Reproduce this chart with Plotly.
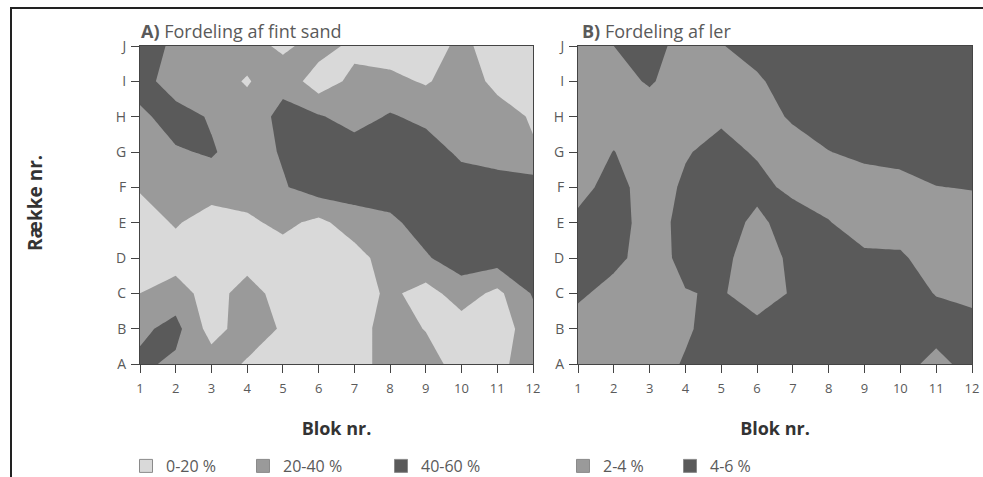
import plotly.graph_objects as go

# ---------------- data ----------------
blocks = [1, 2, 3, 4, 5, 6, 7, 8, 9, 10, 11, 12]
rows = ["A", "B", "C", "D", "E", "F", "G", "H", "I", "J"]

# A) fine sand (%), one list per row A..J, columns blok 1..12
sand_A = [44, 36, 30, 18, 10, 10, 10, 30, 30, 10, 15, 30]
sand_B = [36, 46, 12, 30, 18, 10, 10, 30, 19, 10, 10, 30]
sand_C = [20, 30, 10, 30, 10, 10, 10, 24, 12, 30, 15, 42]
sand_D = [10, 10, 10, 10, 10, 10, 12, 30, 38, 50, 50, 50]
sand_E = [10, 22, 10, 16, 25, 15, 30, 36, 48, 50, 50, 50]
sand_F = [22, 30, 30, 30, 38, 50, 50, 50, 50, 50, 50, 50]
sand_G = [30, 38, 42, 30, 42, 50, 50, 50, 50, 36, 30, 22]
sand_H = [36, 48, 38, 30, 45, 42, 32, 42, 35, 30, 28, 18]
sand_I = [48, 30, 30, 18, 35, 8, 26, 25, 18, 30, 15, 10]
sand_J = [45, 38, 30, 30, 15, 30, 14, 10, 10, 25, 10, 10]
sand = [sand_A, sand_B, sand_C, sand_D, sand_E, sand_F, sand_G, sand_H, sand_I, sand_J]

# B) clay (%), one list per row A..J
ler_A = [3, 3, 3, 4.2, 5, 5, 5, 5, 5, 5, 3.2, 5]
ler_B = [3, 3, 3, 3.7, 5, 4.6, 5, 5, 5, 5, 5, 5]
ler_C = [4.4, 3.2, 3, 3.9, 4.2, 3, 4.2, 5, 5, 5, 3.9, 3.3]
ler_D = [5, 4.6, 3, 4.6, 4.5, 3, 4.4, 5, 4.4, 4.3, 3, 3]
ler_E = [4.5, 5, 3, 4.7, 5, 3.5, 5, 4.1, 3, 3, 3, 3]
ler_F = [3.3, 4.8, 3, 4.3, 5, 4.6, 3.5, 3, 3, 3, 3.95, 4.1]
ler_G = [3, 4.05, 3, 3.85, 4.6, 3.8, 3, 3.95, 4.5, 5, 5, 5]
ler_H = [3, 3, 3, 3, 3.7, 3, 4.3, 5, 5, 5, 5, 5]
ler_I = [3, 3.3, 4.2, 3, 3, 3.7, 5, 5, 5, 5, 5, 5]
ler_J = [3, 4.0, 5, 3, 3.9, 4.8, 5, 5, 5, 5, 5, 5]
ler = [ler_A, ler_B, ler_C, ler_D, ler_E, ler_F, ler_G, ler_H, ler_I, ler_J]

sand_labels = ["0-20 %", "20-40 %", "40-60 %"]
ler_labels = ["2-4 %", "4-6 %"]

# ---------------- styling ----------------
LIGHT = "#d9d9d9"
MED = "#9a9a9a"
DARK = "#5a5a5a"
TXT = "#5a5a5a"
FONT = "Open Sans"

W, H = 983, 477
def px(x):
    return x / W
def py(y):
    return 1 - y / H

row_idx = list(range(len(rows)))

fig = go.Figure()

fig.add_trace(go.Contour(
    x=blocks, y=row_idx, z=sand,
    zmin=0, zmax=60, zauto=False,
    contours=dict(start=20, end=40, size=20, coloring="fill", showlines=False),
    colorscale=[[0, LIGHT], [0.333, LIGHT], [0.334, MED], [0.666, MED], [0.667, DARK], [1, DARK]],
    line=dict(width=0, smoothing=0),
    showscale=False, hoverinfo="skip",
    xaxis="x", yaxis="y",
))

fig.add_trace(go.Contour(
    x=blocks, y=row_idx, z=ler,
    zmin=2, zmax=6, zauto=False,
    contours=dict(start=4, end=4, size=2, coloring="fill", showlines=False),
    colorscale=[[0, MED], [0.5, MED], [0.5001, DARK], [1, DARK]],
    line=dict(width=0, smoothing=0),
    showscale=False, hoverinfo="skip",
    xaxis="x2", yaxis="y2",
))

# legend entries: one small legend per entry so each can sit where the reference has it
legend_items = list(zip(sand_labels, [LIGHT, MED, DARK], ["x", "x", "x"], ["y", "y", "y"])) + \
               list(zip(ler_labels, [MED, DARK], ["x2", "x2"], ["y2", "y2"]))
legend_left_px = [126, 243, 381, 563, 670]
legend_layout = {}
for i, (name, col, xr, yr) in enumerate(legend_items):
    lname = "legend" if i == 0 else "legend%d" % (i + 1)
    fig.add_trace(go.Scatter(
        x=[None], y=[None], mode="markers", name=name,
        marker=dict(symbol="square", size=13, color=col, line=dict(color="#8a8a8a", width=1)),
        legend=lname, xaxis=xr, yaxis=yr,
    ))
    legend_layout[lname] = dict(
        orientation="h", x=px(legend_left_px[i]), y=py(466), xanchor="left", yanchor="middle",
        font=dict(family=FONT, size=16, color=TXT), itemwidth=30,
        bgcolor="rgba(0,0,0,0)",
    )

xa = dict(
    range=[1, 12], tickmode="array", tickvals=blocks, ticktext=[str(b) for b in blocks],
    ticks="outside", ticklen=8, tickcolor="#444", showline=True, linecolor="#444", linewidth=1,
    mirror=True, showgrid=False, zeroline=False, ticklabelstandoff=4,
    tickfont=dict(family=FONT, size=13, color=TXT),
    title=dict(text="<b>Blok nr.</b>", font=dict(family=FONT, size=18, color="#333"), standoff=26),
)
ya = dict(
    range=[0, len(rows) - 1], tickmode="array", tickvals=row_idx, ticktext=rows,
    ticks="outside", ticklen=8, tickcolor="#444", showline=True, linecolor="#444", linewidth=1,
    mirror=True, showgrid=False, zeroline=False, ticklabelstandoff=2,
    tickfont=dict(family=FONT, size=14, color=TXT),
)

fig.update_layout(
    width=W, height=H, autosize=False,
    margin=dict(l=0, r=0, t=0, b=0, autoexpand=False),
    paper_bgcolor="white", plot_bgcolor="white",
    font=dict(family=FONT, color=TXT),
    xaxis=dict(xa, domain=[px(140), px(533)], anchor="y"),
    yaxis=dict(ya, domain=[py(364), py(46)], anchor="x"),
    xaxis2=dict(xa, domain=[px(578), px(972)], anchor="y2"),
    yaxis2=dict(ya, domain=[py(364), py(46)], anchor="x2"),
    showlegend=True,
    annotations=[
        dict(text="<b>A)</b> Fordeling af fint sand", x=px(139), y=py(31), xref="paper", yref="paper",
             xanchor="left", yanchor="middle", showarrow=False,
             font=dict(family=FONT, size=18, color=TXT)),
        dict(text="<b>B)</b> Fordeling af ler", x=px(580), y=py(31), xref="paper", yref="paper",
             xanchor="left", yanchor="middle", showarrow=False,
             font=dict(family=FONT, size=18, color=TXT)),
        dict(text="<b>Række nr.</b>", x=px(35), y=py(203), xref="paper", yref="paper",
             xanchor="center", yanchor="middle", showarrow=False, textangle=-90,
             font=dict(family=FONT, size=19, color="#333")),
    ],
    shapes=[
        dict(type="line", xref="paper", yref="paper", x0=px(10), x1=1, y0=py(8), y1=py(8),
             line=dict(color="#222", width=2)),
        dict(type="line", xref="paper", yref="paper", x0=px(11), x1=px(11), y0=py(8), y1=0,
             line=dict(color="#222", width=2)),
    ],
    **legend_layout,
)

fig.write_html("out.html")
